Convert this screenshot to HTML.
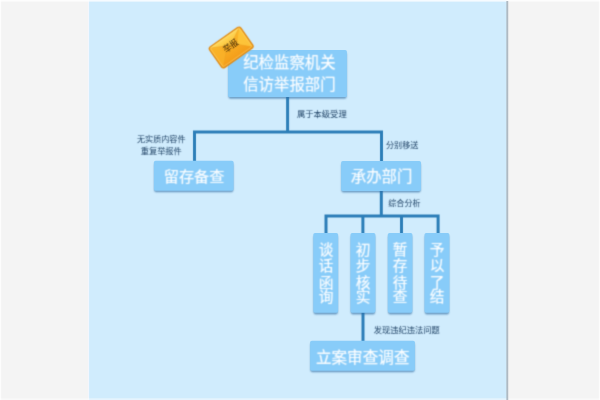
<!DOCTYPE html>
<html lang="zh"><head><meta charset="utf-8"><title>信访举报处理流程</title>
<style>html,body{margin:0;padding:0;background:#f4f4f4;font-family:"Liberation Sans",sans-serif}body{width:600px;height:400px;overflow:hidden}svg{display:block}</style></head><body>
<svg width="600" height="400" viewBox="0 0 600 400">
<defs><filter id="sh" x="-0.1" y="-0.3" width="1.2" height="1.6" color-interpolation-filters="sRGB"><feConvolveMatrix order="5" kernelMatrix="0.0072 0.0457 0.0847 0.0457 0.0072 0.0457 0.291 0.5394 0.291 0.0457 0.0847 0.5394 1 0.5394 0.0847 0.0457 0.291 0.5394 0.291 0.0457 0.0072 0.0457 0.0847 0.0457 0.0072" divisor="5.0541" edgeMode="none" preserveAlpha="false"/></filter><filter id="b1" x="-0.05" y="-0.2" width="1.1" height="1.4" color-interpolation-filters="sRGB"><feConvolveMatrix order="3" kernelMatrix="0.1299 0.3604 0.1299 0.3604 1 0.3604 0.1299 0.3604 0.1299" divisor="2.9615" edgeMode="none" preserveAlpha="false"/></filter><filter id="b2" x="-0.05" y="-0.3" width="1.1" height="1.6" color-interpolation-filters="sRGB"><feConvolveMatrix order="3" kernelMatrix="0.0622 0.2494 0.0622 0.2494 1 0.2494 0.0622 0.2494 0.0622" divisor="2.2461" edgeMode="none" preserveAlpha="false"/></filter><filter id="b3" x="-0.05" y="-0.05" width="1.1" height="1.1" color-interpolation-filters="sRGB"><feConvolveMatrix order="3" kernelMatrix="0.0183 0.1353 0.0183 0.1353 1 0.1353 0.0183 0.1353 0.0183" divisor="1.6146" edgeMode="none" preserveAlpha="false"/></filter><filter id="b4" x="-0.2" y="-0.2" width="1.4" height="1.4" color-interpolation-filters="sRGB"><feConvolveMatrix order="3" kernelMatrix="0.0622 0.2494 0.0622 0.2494 1 0.2494 0.0622 0.2494 0.0622" divisor="2.2461" edgeMode="none" preserveAlpha="false"/></filter><linearGradient id="env" x1="0" y1="0" x2="0" y2="1"><stop offset="0" stop-color="#fbbd2e"/><stop offset="0.5" stop-color="#f8ab22"/><stop offset="1" stop-color="#f39c19"/></linearGradient><linearGradient id="flap" x1="0" y1="0" x2="0" y2="1"><stop offset="0" stop-color="#fed859"/><stop offset="1" stop-color="#fbbd33"/></linearGradient><linearGradient id="edge" x1="0" y1="0" x2="1" y2="0"><stop offset="0" stop-color="#9aa8b3"/><stop offset="0.5" stop-color="#b4bec6"/><stop offset="1" stop-color="#dde1e5" stop-opacity="0"/></linearGradient></defs>
<rect width="600" height="400" fill="#f4f4f4"/>
<rect x="88.9" y="0" width="417.8" height="400" fill="#d0ecfd"/>
<rect x="88.0" y="0" width="1.1" height="400" fill="#f3f6fd"/>
<rect x="0" y="0" width="600" height="1.6" fill="#fff" opacity=".8"/>
<rect x="0" y="398.3" width="600" height="1.7" fill="#fff" opacity=".45"/>
<rect x="0" y="0" width="1.2" height="400" fill="#fff" opacity=".8"/>
<rect x="598.8" y="0" width="1.2" height="400" fill="#fff" opacity=".7"/>
<rect x="506.5" y="1" width="2.5" height="399" fill="url(#edge)"/>
<g fill="none" stroke="#2c7eb8" stroke-width="3" stroke-linejoin="miter" stroke-linecap="butt" filter="url(#b3)">
<path d="M287.6 96V132"/>
<path d="M194.5 162V132H381.5V162"/>
<path d="M381.3 190V215.9"/>
<path d="M326 234V215.9H438.1V234"/>
<path d="M362.9 215.9V234M401.5 215.9V234"/>
<path d="M363 312V342"/>
</g>
<g fill="#2f6fa6" opacity=".62" filter="url(#sh)">
<rect x="228.4" y="52" width="118.2" height="46.7" rx="2"/>
<rect x="154.2" y="162.8" width="79.1" height="29.5" rx="2"/>
<rect x="341.4" y="163" width="79.3" height="29.6" rx="2"/>
<rect x="313.6" y="235" width="24.2" height="79.4" rx="2"/>
<rect x="350.8" y="235" width="24.3" height="79.4" rx="2"/>
<rect x="388.1" y="235" width="24" height="79.4" rx="2"/>
<rect x="424.8" y="235" width="24.3" height="79.4" rx="2"/>
<rect x="310.4" y="342.7" width="104.2" height="29.6" rx="2"/>
</g>
<g fill="#88ccf9">
<rect x="228.1" y="50" width="118.8" height="47.1" rx="1.7"/>
<rect x="153.9" y="160.8" width="79.7" height="29.9" rx="1.7"/>
<rect x="341.1" y="161" width="79.9" height="30" rx="1.7"/>
<rect x="313.3" y="233" width="24.8" height="79.8" rx="1.7"/>
<rect x="350.5" y="233" width="24.9" height="79.8" rx="1.7"/>
<rect x="387.8" y="233" width="24.6" height="79.8" rx="1.7"/>
<rect x="424.5" y="233" width="24.9" height="79.8" rx="1.7"/>
<rect x="310.1" y="340.7" width="104.8" height="30" rx="1.7"/>
</g>
<g filter="url(#b4)"><g transform="translate(231.2 47.5) rotate(-35)">
<rect x="-19" y="-12.6" width="38" height="25.2" rx="2.4" fill="url(#env)" stroke="#df8a14" stroke-width="1.3"/>
<path d="M18 -11.6 L18 11.6 L6.5 0.6 Z" fill="#fdc63c" opacity=".9"/>
<path d="M-18 -11.6 L-18 11.6 L-6.5 0.6 Z" fill="#f9b229" opacity=".8"/>
<path d="M-17.8 -11.8 L1 -1.8 L17.8 -11.8 Z" fill="url(#flap)"/>
<path d="M-17.8 11.8 L-6.5 0.6 M17.8 11.8 L6.5 0.6" stroke="#f0a122" stroke-width=".7" fill="none" opacity=".8"/>
<path d="M-17.8 -11.8 L1 -1.8 L17.8 -11.8" stroke="#f2a425" stroke-width=".7" fill="none" opacity=".85"/>
<rect x="-17.7" y="-11.3" width="35.4" height="22.6" rx="1.6" fill="none" stroke="#ffe38f" stroke-width=".7" opacity=".55"/>
</g></g>
<text transform="translate(230.6 45.6) rotate(-35)" x="0" y="2.9" text-anchor="middle" font-size="8" fill="#2e1c02" filter="url(#b3)" font-family="&quot;Liberation Sans&quot;, &quot;Noto Sans CJK SC&quot;, sans-serif">举报</text>
<g fill="#ffffff" stroke="#ffffff" stroke-width="0.15" stroke-linejoin="round" filter="url(#b1)" font-family="&quot;Liberation Sans&quot;, &quot;Noto Sans CJK SC&quot;, sans-serif" text-anchor="middle">
<text x="289.4" y="67.6" font-size="15.4">纪检监察机关</text>
<text x="289.4" y="89.7" font-size="15.4">信访举报部门</text>
<text x="194.1" y="181.8" font-size="15.2">留存备查</text>
<text x="381.6" y="181.9" font-size="15.4">承办部门</text>
<text x="362.7" y="362.8" font-size="15.6">立案审查调查</text>
<text font-size="14.7"><tspan x="326" y="254.6">谈</tspan><tspan x="326" y="271.2">话</tspan><tspan x="326" y="287.6">函</tspan><tspan x="326" y="302.3">询</tspan></text>
<text font-size="14.7"><tspan x="363" y="254.6">初</tspan><tspan x="363" y="271.2">步</tspan><tspan x="363" y="287.6">核</tspan><tspan x="363" y="302.3">实</tspan></text>
<text font-size="14.7"><tspan x="400.1" y="254.6">暂</tspan><tspan x="400.1" y="271.2">存</tspan><tspan x="400.1" y="287.6">待</tspan><tspan x="400.1" y="302.3">查</tspan></text>
<text font-size="14.7"><tspan x="437" y="254.6">予</tspan><tspan x="437" y="271.2">以</tspan><tspan x="437" y="287.6">了</tspan><tspan x="437" y="302.3">结</tspan></text>
</g>
<g fill="#1f4265" filter="url(#b2)" font-family="&quot;Liberation Sans&quot;, &quot;Noto Sans CJK SC&quot;, sans-serif">
<text x="161.25" y="141.9" font-size="8.1" text-anchor="middle">无实质内容件</text>
<text x="161.25" y="154.4" font-size="8.2" text-anchor="middle">重复举报件</text>
<text x="296.9" y="117.2" font-size="8.3">属于本级受理</text>
<text x="386" y="148.1" font-size="8.1">分别移送</text>
<text x="388.2" y="205.6" font-size="8.1">综合分析</text>
<text x="373.7" y="332.5" font-size="8.25">发现违纪违法问题</text>
</g>
</svg></body></html>
